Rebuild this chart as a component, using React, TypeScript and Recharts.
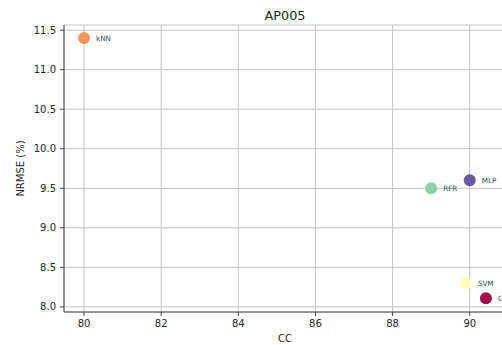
import { CartesianGrid, Label, Scatter, ScatterChart, XAxis, YAxis } from "recharts";

// model scores for station AP005
const models = ["kNN", "RFR", "MLP", "SVM", "GBR"];
const cc = [80.0, 89.0, 90.0, 89.9, 90.42];
const nrmse = [11.4, 9.5, 9.6, 8.3, 8.11];

const xTicks = [80, 82, 84, 86, 88, 90];
const yTicks = [8.0, 8.5, 9.0, 9.5, 10.0, 10.5, 11.0, 11.5];

// Spectral colormap, one colour per model
const modelColor: Record<string, string> = {
  kNN: "#f98e52",
  RFR: "#86cfa5",
  MLP: "#5e4fa2",
  SVM: "#ffffbf",
  GBR: "#9e0142",
};

const font = "DejaVu Sans, sans-serif";
const ink = "#262626";

const data = models.map((m, i) => ({ model: m, cc: cc[i], nrmse: nrmse[i] }));

function Dot(props: any) {
  const { cx, cy, payload } = props;
  return (
    <g>
      <circle cx={cx} cy={cy} r={6} fill={modelColor[payload.model]} fillOpacity={0.95} />
      <text
        x={cx + 12}
        y={cy}
        dy="0.35em"
        fontSize={7.2}
        fontFamily={font}
        fill="#2f4f4f"
      >
        {payload.model}
      </text>
    </g>
  );
}

export default function App() {
  return (
    <div style={{ width: 502, height: 345, overflow: "hidden", position: "relative" }}>
      <style>{"body{margin:0}"}</style>
      <ScatterChart
        width={510}
        height={345}
        margin={{ top: 25, right: 4, left: 0, bottom: 0 }}
      >
        <text
          x={285}
          y={20}
          textAnchor="middle"
          fontSize={12.8}
          fontFamily={font}
          fill={ink}
        >
          AP005
        </text>
        <CartesianGrid stroke="#c4c4c4" strokeWidth={1} />
        <XAxis
          type="number"
          dataKey="cc"
          domain={[79.48, 90.94]}
          ticks={xTicks}
          allowDataOverflow
          height={33}
          tickSize={4}
          tickMargin={4}
          stroke="#444"
          tick={{ fontSize: 10, fontFamily: font, fill: ink }}
        >
          <Label
            value="CC"
            position="insideBottom"
            offset={3}
            style={{ fontSize: 10, fontFamily: font, fill: ink }}
          />
        </XAxis>
        <YAxis
          type="number"
          dataKey="nrmse"
          domain={[7.935, 11.565]}
          ticks={yTicks}
          allowDataOverflow
          width={64}
          tickSize={4}
          tickMargin={4}
          stroke="#444"
          tickFormatter={(v: number) => v.toFixed(1)}
          tick={{ fontSize: 10, fontFamily: font, fill: ink }}
        >
          <Label
            value="NRMSE (%)"
            angle={-90}
            position="insideLeft"
            offset={20}
            style={{ fontSize: 10, fontFamily: font, fill: ink, textAnchor: "middle" }}
          />
        </YAxis>
        <Scatter data={data} shape={Dot} isAnimationActive={false} />
      </ScatterChart>
    </div>
  );
}
